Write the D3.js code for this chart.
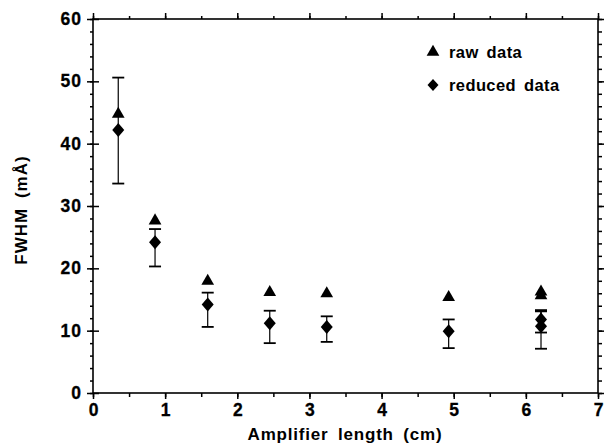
<!DOCTYPE html>
<html><head><meta charset="utf-8">
<script src="https://cdn.jsdelivr.net/npm/d3@7"></script>
<style>body{margin:0;background:#fff}svg{display:block}text{font-family:"Liberation Sans",Arial,sans-serif;font-weight:bold;fill:#000}</style>
</head><body><svg id="c" width="608" height="445"></svg>
<script>
const lengths = [0.35, 0.86, 1.59, 2.45, 3.24, 4.93, 6.21, 6.21];
const rawData = [44.9, 27.8, 18.1, 16.3, 16.1, 15.5, 16.4, 15.8];
const reducedData = [42.2, 24.2, 14.2, 11.2, 10.6, 9.9, 11.8, 10.7];
const errLow = [33.6, 20.3, 10.6, 8.0, 8.2, 7.2, 9.7, 7.1];
const errHigh = [50.6, 26.3, 16.1, 13.2, 12.3, 11.8, 13.3, 13.1];
const xTicks = [0, 1, 2, 3, 4, 5, 6, 7];
const yTicks = [0, 10, 20, 30, 40, 50, 60];
const legendLabels = ["raw data", "reduced data"];

const svg = d3.select("#c");
const x = d3.scaleLinear().domain([0, 7]).range([93, 598]);
const y = d3.scaleLinear().domain([0, 60]).range([393, 19]);

svg.append("rect").attr("x", 93).attr("y", 19).attr("width", 505).attr("height", 374)
  .attr("fill", "none").attr("stroke", "#000").attr("stroke-width", 1.6);

const xMinor = d3.range(0, 7.01, 0.5);
const yMinor = d3.range(0, 60.01, 2);

const bx = svg.append("g").attr("transform", "translate(0,393)")
  .call(d3.axisBottom(x).tickValues(xMinor).tickSize(4).tickFormat(""));
bx.select(".domain").remove();
const bxM = svg.append("g").attr("transform", "translate(0,393)")
  .call(d3.axisBottom(x).tickValues(xTicks).tickSize(6).tickPadding(5).tickFormat(d3.format("d")));
bxM.select(".domain").remove();
bxM.selectAll("text").attr("font-size", 17.5).attr("font-family", "Liberation Sans, Arial, sans-serif").attr("font-weight", "bold").attr("stroke", "#000").attr("stroke-width", 0.3);

const tx = svg.append("g").attr("transform", "translate(0,19)")
  .call(d3.axisTop(x).tickValues(xMinor).tickSize(3).tickFormat(""));
tx.select(".domain").remove();
const txM = svg.append("g").attr("transform", "translate(0,19)")
  .call(d3.axisTop(x).tickValues(xTicks).tickSize(6).tickFormat(""));
txM.select(".domain").remove();

const ly = svg.append("g").attr("transform", "translate(93,0)")
  .call(d3.axisLeft(y).tickValues(yMinor).tickSize(3).tickFormat(""));
ly.select(".domain").remove();
const lyM = svg.append("g").attr("transform", "translate(93,0)")
  .call(d3.axisLeft(y).tickValues(yTicks).tickSize(6).tickPadding(5).tickFormat(d3.format("d")));
lyM.select(".domain").remove();
lyM.selectAll("line").attr("x2", 6).attr("x1", -6);
lyM.selectAll("text").attr("font-size", 17.5).attr("font-family", "Liberation Sans, Arial, sans-serif").attr("font-weight", "bold").attr("letter-spacing", 1).attr("stroke", "#000").attr("stroke-width", 0.3);

const ry = svg.append("g").attr("transform", "translate(598,0)")
  .call(d3.axisRight(y).tickValues(yMinor).tickSize(4).tickFormat(""));
ry.select(".domain").remove();
const ryM = svg.append("g").attr("transform", "translate(598,0)")
  .call(d3.axisRight(y).tickValues(yTicks).tickSize(6).tickFormat(""));
ryM.select(".domain").remove();
svg.selectAll(".tick line").attr("stroke-width", 1.5);

svg.append("text").attr("x", 345).attr("y", 440).attr("text-anchor", "middle")
  .attr("font-size", 17).attr("letter-spacing", 0.8).attr("word-spacing", 4).text("Amplifier length (cm)");
svg.append("text").attr("transform", "translate(27,210) rotate(-90)").attr("text-anchor", "middle")
  .attr("font-size", 17).attr("letter-spacing", 1).attr("word-spacing", 4).text("FWHM (mÅ)");

const data = lengths.map((l, i) => ({l, raw: rawData[i], red: reducedData[i], lo: errLow[i], hi: errHigh[i]}));

const eb = svg.append("g").attr("stroke", "#000");
data.forEach(d => {
  eb.append("line").attr("x1", x(d.l)).attr("x2", x(d.l)).attr("y1", y(d.lo)).attr("y2", y(d.hi)).attr("stroke-width", 1.2);
  [d.lo, d.hi].forEach(v => eb.append("line").attr("x1", x(d.l) - 6).attr("x2", x(d.l) + 6)
    .attr("y1", y(v)).attr("y2", y(v)).attr("stroke-width", 1.8));
});

const tri = d3.symbol().type(d3.symbolTriangle).size(70);
const dia = "M0,-7L6,0L0,7L-6,0Z";

svg.append("g").selectAll("path").data(data).join("path")
  .attr("d", tri).attr("transform", d => `translate(${x(d.l)},${y(d.raw) + 1})`).attr("fill", "#000");
svg.append("g").selectAll("path").data(data).join("path")
  .attr("d", dia).attr("transform", d => `translate(${x(d.l)},${y(d.red)})`).attr("fill", "#000");

const lg = svg.append("g");
lg.append("path").attr("d", tri).attr("transform", "translate(433,52)").attr("fill", "#000");
lg.append("path").attr("d", "M0,-6L5.5,0L0,6L-5.5,0Z").attr("transform", "translate(433,85)").attr("fill", "#000");
lg.append("text").attr("x", 449).attr("y", 58).attr("font-size", 16.5).attr("letter-spacing", 0.4).attr("word-spacing", 3).text(legendLabels[0]);
lg.append("text").attr("x", 449).attr("y", 91).attr("font-size", 16.5).attr("letter-spacing", 0.4).attr("word-spacing", 3).text(legendLabels[1]);
</script></body></html>
